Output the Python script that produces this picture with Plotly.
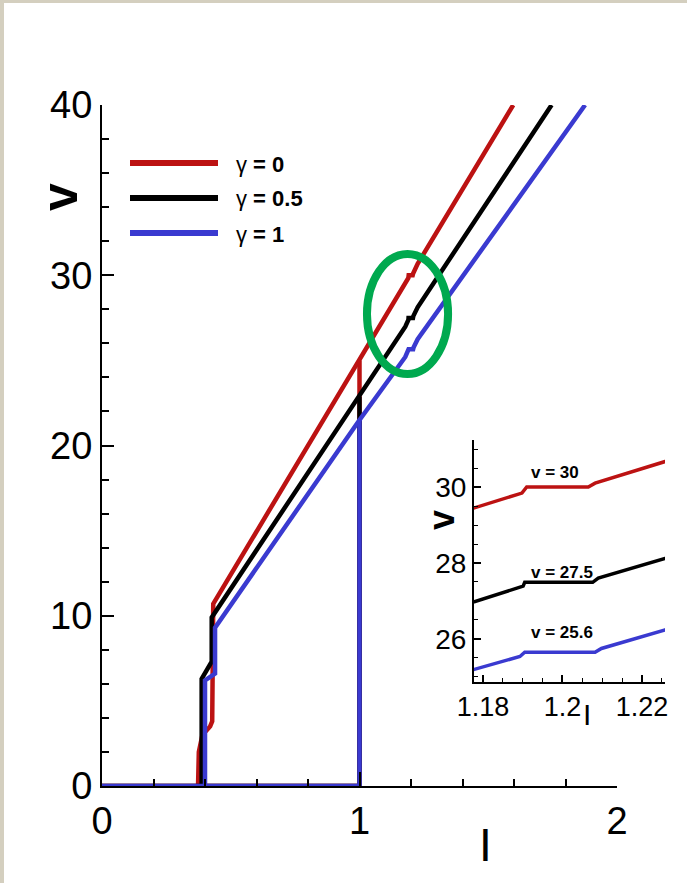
import plotly.graph_objects as go

# ---------------- data ----------------
red_I = [0.0, 0.373, 0.376, 0.39, 0.42, 0.428, 0.432, 1.0, 1.1778, 1.1898, 1.191, 1.2065, 1.2082, 1.2258, 1.597, None, 0.373, 1.0, 1.0]
red_v = [0.0, 0.0, 2.0, 3.0, 3.5, 3.8, 10.7, 25.0, 29.45, 29.84, 30.0, 30.0, 30.1, 30.67, 40.0, None, 0.0, 0.0, 25.0]

black_I = [0.0, 0.387, 0.387, 0.426, 0.426, 1.0, 1.1778, 1.1901, 1.1905, 1.2076, 1.209, 1.2258, 1.746, None, 0.387, 1.0, 1.0]
black_v = [0.0, 0.0, 6.3, 7.3, 9.9, 22.87, 26.98, 27.39, 27.49, 27.49, 27.6, 28.12, 40.0, None, 0.0, 0.0, 22.87]

blue_I = [0.0, 0.40, 0.40, 0.439, 0.439, 1.0, 1.1778, 1.1893, 1.1905, 1.2082, 1.2098, 1.2258, 1.876, None, 0.40, 1.0, 1.0]
blue_v = [0.0, 0.0, 6.2, 6.6, 9.3, 21.5, 25.20, 25.54, 25.65, 25.65, 25.75, 26.24, 40.0, None, 0.0, 0.0, 21.5]

series_gamma = ["0", "0.5", "1"]
series_names = ["γ = 0", "γ = 0.5", "γ = 1"]
series_colors = ["#bc1212", "#000000", "#3a3ad0"]

main_xticks = [0, 1, 2]
main_yticks = [0, 10, 20, 30, 40]
inset_xticks = [1.18, 1.2, 1.22]
inset_xticklabels = ["1.18", "1.2", "1.22"]
inset_yticks = [26, 28, 30]

plateau_labels = ["v = 30", "v = 27.5", "v = 25.6"]
plateau_label_I = [1.1981, 1.1999, 1.1999]
plateau_label_v = [30.39, 27.76, 26.18]

# ---------------- layout geometry ----------------
W, H = 687, 883
L, R, T, B = 102, 10, 105, 97
PW = W - L - R
PH = H - T - B


def px(x):
    return (x - L) / PW


def py(y):
    return (H - B - y) / PH


FONT = "Liberation Sans Narrow, Arial Narrow, Liberation Sans, Arial, sans-serif"
BOLDFONT = "Liberation Sans, Arial, sans-serif"

fig = go.Figure()

data = [(red_I, red_v), (black_I, black_v), (blue_I, blue_v)]
for (xs, ys), name, col in zip(data, series_names, series_colors):
    fig.add_trace(go.Scatter(x=xs, y=ys, mode="lines", name=name,
                             line=dict(color=col, width=4.5), showlegend=False,
                             xaxis="x", yaxis="y"))
for (xs, ys), name, col in zip(data, series_names, series_colors):
    fig.add_trace(go.Scatter(x=xs, y=ys, mode="lines", name=name,
                             line=dict(color=col, width=3.5), showlegend=False,
                             xaxis="x2", yaxis="y2"))

axis_common = dict(showgrid=False, zeroline=False, showline=True, linecolor="black",
                   linewidth=2, ticks="inside", tickcolor="black", tickwidth=2,
                   color="black", automargin=False)

fig.update_layout(
    width=W, height=H, autosize=False,
    margin=dict(l=L, r=R, t=T, b=B, autoexpand=False),
    paper_bgcolor="#d4cfbf",
    plot_bgcolor="rgba(0,0,0,0)",
    showlegend=False,
    xaxis=dict(domain=[0, 515 / PW], range=[0, 2], tickvals=main_xticks,
               ticklen=14, tickfont=dict(family=FONT, size=38),
               minor=dict(dtick=0.2, ticklen=7, tickwidth=1.5, tickcolor="black", ticks="inside"),
               anchor="y", **axis_common),
    yaxis=dict(domain=[0, 1], range=[0, 40], tickvals=main_yticks,
               ticklen=12, tickfont=dict(family=FONT, size=38),
               minor=dict(dtick=2, ticklen=7, tickwidth=1.5, tickcolor="black", ticks="inside"),
               anchor="x", **axis_common),
    xaxis2=dict(domain=[px(474), px(665)], range=[1.17774, 1.22579],
                tickvals=inset_xticks, ticktext=inset_xticklabels,
                ticklen=7, tickfont=dict(family=FONT, size=27),
                minor=dict(dtick=0.005, ticklen=4, tickwidth=1, tickcolor="black", ticks="inside"),
                anchor="y2", **axis_common),
    yaxis2=dict(domain=[py(682), py(440)], range=[24.868, 31.237],
                tickvals=inset_yticks,
                ticklen=7, tickfont=dict(family=FONT, size=28),
                minor=dict(dtick=0.5, ticklen=4, tickwidth=1, tickcolor="black", ticks="inside"),
                anchor="x2", **axis_common),
)

shapes = [
    # white page area
    dict(type="rect", xref="paper", yref="paper", x0=px(4), x1=px(W + 20), y0=py(H + 20), y1=py(3),
         fillcolor="white", line=dict(width=0), layer="below"),
    # green ellipse
    dict(type="circle", xref="x", yref="y", x0=1.029, x1=1.344, y0=24.2, y1=31.25,
         line=dict(color="#00a94f", width=8)),
]
annotations = []

# legend (drawn manually)
leg_y = [163, 198, 233]
for g, col, yy in zip(series_gamma, series_colors, leg_y):
    shapes.append(dict(type="line", xref="paper", yref="paper", x0=px(130), x1=px(218),
                       y0=py(yy), y1=py(yy), line=dict(color=col, width=6)))
    annotations.append(dict(xref="paper", yref="paper", x=px(234), y=py(yy + 1),
                            text="γ<b> = " + g + "</b>",
                            showarrow=False, xanchor="left", yanchor="middle",
                            font=dict(family=FONT, size=22, color="black")))

# axis titles
annotations += [
    dict(xref="paper", yref="paper", x=px(60), y=py(197), text="<b>v</b>", textangle=-90,
         showarrow=False, xanchor="center", yanchor="middle",
         font=dict(family=BOLDFONT, size=50, color="black")),
    dict(xref="paper", yref="paper", x=px(485), y=py(845), text="I",
         showarrow=False, xanchor="center", yanchor="middle",
         font=dict(family=FONT, size=46, color="black")),
    dict(xref="paper", yref="paper", x=px(441), y=py(520), text="<b>v</b>", textangle=-90,
         showarrow=False, xanchor="center", yanchor="middle",
         font=dict(family=BOLDFONT, size=36, color="black")),
    dict(xref="paper", yref="paper", x=px(587), y=py(714), text="I",
         showarrow=False, xanchor="center", yanchor="middle",
         font=dict(family=FONT, size=30, color="black")),
]

for t, xi, vi in zip(plateau_labels, plateau_label_I, plateau_label_v):
    annotations.append(dict(xref="x2", yref="y2", x=xi, y=vi, text="<b>" + t + "</b>",
                            showarrow=False, xanchor="center", yanchor="middle",
                            font=dict(family=FONT, size=17, color="black")))

fig.update_layout(shapes=shapes, annotations=annotations)

fig.write_html("out.html",
               config={"displayModeBar": False, "responsive": False},
               post_script="document.body.style.margin='0';document.body.style.overflow='hidden';")
